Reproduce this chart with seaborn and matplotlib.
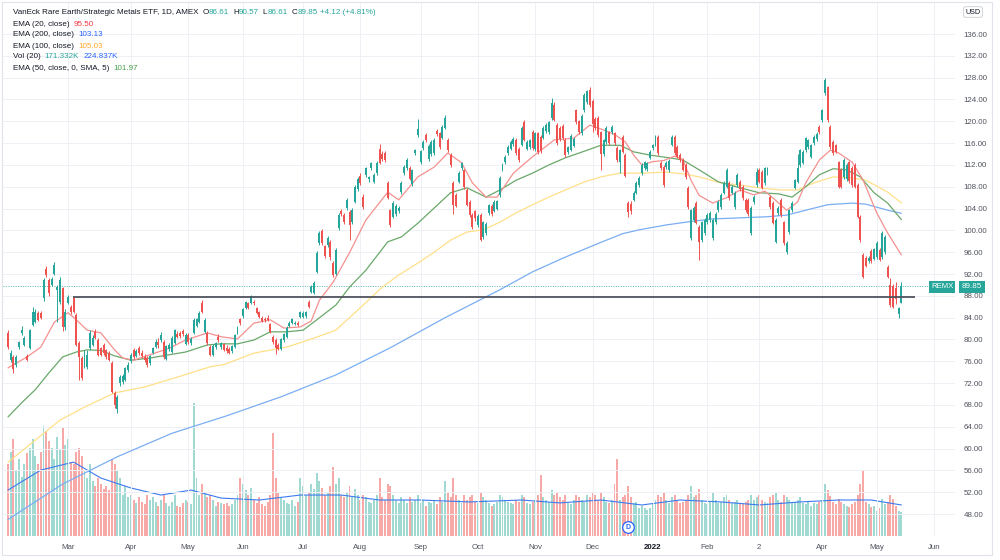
import matplotlib
matplotlib.use("Agg")
import matplotlib.pyplot as plt
from matplotlib.patches import Rectangle
import seaborn as sns
import pandas as pd
import numpy as np

sns.set_theme(style="white")
plt.rcParams['font.family'] = ['Liberation Sans', 'DejaVu Sans']

TEAL = '#26a69a'
RED = '#ef5350'

# trading days shown (AMEX daily bars)
holidays = ["2021-02-15", "2021-04-02", "2021-05-31", "2021-07-05", "2021-09-06",
            "2021-11-25", "2021-12-24", "2022-01-17", "2022-02-21", "2022-04-15",
            "2022-05-30"]
month_labels = ["Mar", "Apr", "May", "Jun", "Jul", "Aug", "Sep", "Oct", "Nov", "Dec",
                "2022", "Feb", "2", "Apr", "May", "Jun"]

opens = [81.2, 76.3, 76.8, 75.3, 78.6, 81.2, 79.0, 77.0, 78.4, 82.7,
         83.2, 84.9, 84.9, 87.6, 92.9, 90.9, 90.0, 92.0, 89.0, 86.9,
         89.4, 82.3, 86.7, 86.0, 87.6, 84.5, 79.4, 76.6, 75.0, 75.0,
         78.4, 79.0, 81.4, 79.9, 78.4, 79.0, 78.0, 77.5, 75.7, 70.2,
         67.3, 72.0, 72.2, 72.6, 74.4, 76.0, 78.0, 77.0, 78.4, 77.6,
         76.8, 76.6, 75.6, 77.5, 78.6, 79.6, 79.9, 79.5, 76.5, 78.2,
         77.7, 79.4, 81.0, 81.2, 81.5, 79.2, 80.8, 79.3, 81.2, 82.5,
         83.2, 86.7, 81.4, 81.2, 78.6, 77.2, 78.6, 80.5, 78.6, 79.2,
         78.5, 78.3, 77.8, 78.6, 81.2, 83.7, 84.3, 85.8, 86.6, 86.7,
         86.9, 85.8, 85.0, 84.0, 83.8, 84.0, 82.8, 80.5, 79.9, 79.0,
         78.2, 79.9, 80.5, 82.4, 83.0, 82.9, 83.1, 84.1, 84.2, 84.3,
         86.9, 88.7, 88.5, 92.4, 97.7, 99.9, 97.1, 97.3, 97.9, 94.0,
         92.0, 100.4, 103.5, 102.8, 104.1, 103.4, 101.5, 105.2, 107.6, 110.0,
         106.2, 110.1, 109.5, 111.4, 108.9, 110.5, 115.0, 114.0, 114.2, 108.7,
         103.8, 102.5, 103.0, 103.6, 107.0, 110.5, 111.4, 111.5, 108.5, 114.2,
         117.5, 112.5, 115.1, 117.5, 113.0, 114.0, 114.2, 118.3, 117.8, 117.0,
         118.8, 116.6, 113.8, 108.7, 106.5, 108.9, 111.4, 111.0, 107.4, 105.2,
         102.8, 103.5, 101.0, 102.8, 98.8, 99.5, 103.2, 104.5, 103.6, 104.0,
         106.5, 111.1, 112.5, 114.2, 115.0, 115.8, 116.6, 115.0, 115.7, 119.9,
         115.0, 115.3, 118.0, 114.9, 117.8, 117.2, 117.0, 118.2, 118.0, 120.6,
         123.0, 119.3, 118.8, 119.2, 116.6, 114.3, 114.8, 115.5, 122.0, 120.0,
         117.8, 122.0, 123.5, 125.8, 123.8, 120.5, 120.6, 118.0, 114.0, 116.2,
         118.0, 118.0, 117.8, 115.1, 112.5, 117.1, 113.8, 105.0, 104.8, 105.6,
         106.9, 108.3, 110.5, 111.4, 111.2, 113.3, 115.1, 115.7, 117.1, 112.4,
         111.6, 111.6, 111.0, 115.7, 117.1, 115.3, 113.8, 112.9, 112.0, 107.8,
         98.6, 101.9, 105.0, 100.6, 98.2, 99.5, 101.5, 101.9, 98.6, 101.5,
         103.7, 104.3, 106.9, 108.0, 108.7, 106.9, 104.3, 108.3, 108.9, 108.0,
         105.6, 105.6, 99.5, 105.2, 108.3, 111.1, 110.7, 108.7, 110.5, 106.1,
         105.0, 97.9, 103.2, 105.6, 101.5, 96.0, 99.7, 103.7, 107.8, 108.9,
         112.0, 112.4, 114.7, 115.3, 113.5, 116.0, 116.7, 119.0, 120.2, 125.2,
         126.2, 119.0, 116.2, 115.6, 112.5, 111.1, 109.8, 109.4, 112.5, 111.5,
         112.0, 108.3, 102.5, 95.5, 95.0, 94.3, 96.3, 94.8, 95.1, 96.4,
         95.1, 96.0, 93.3, 90.0, 89.8, 89.5, 84.6, 86.61]

highs = [81.8, 78.0, 77.2, 77.2, 79.8, 82.5, 80.6, 77.3, 82.0, 86.0,
         85.5, 85.2, 85.3, 91.2, 93.5, 91.2, 91.5, 94.2, 90.0, 91.5,
         89.6, 85.5, 88.2, 86.3, 87.7, 84.8, 79.8, 77.0, 78.0, 78.0,
         81.8, 80.8, 82.0, 80.2, 78.6, 79.3, 78.3, 77.8, 76.0, 70.5,
         69.8, 73.5, 73.6, 75.0, 75.8, 77.5, 78.5, 78.2, 78.8, 78.0,
         77.3, 77.0, 77.2, 78.7, 80.0, 80.2, 81.3, 79.9, 79.0, 79.3,
         80.6, 82.0, 81.5, 81.6, 82.0, 81.2, 81.2, 80.5, 83.9, 84.0,
         85.3, 87.2, 84.0, 81.5, 79.0, 79.2, 79.6, 81.0, 79.5, 79.4,
         78.9, 78.6, 79.0, 81.0, 82.5, 84.0, 85.8, 87.1, 86.9, 88.2,
         87.2, 86.0, 85.3, 84.3, 84.1, 84.4, 83.0, 80.8, 80.2, 79.4,
         80.3, 81.2, 82.4, 83.3, 84.0, 83.4, 83.3, 85.2, 85.2, 85.3,
         87.3, 89.9, 90.8, 96.2, 99.8, 100.3, 97.4, 98.9, 98.2, 94.3,
         96.8, 103.2, 104.0, 103.1, 106.0, 103.8, 104.1, 108.3, 109.8, 110.5,
         106.6, 111.7, 110.0, 112.6, 110.5, 112.7, 115.8, 114.5, 114.6, 109.0,
         104.0, 105.3, 104.8, 104.4, 109.0, 111.9, 113.2, 111.8, 111.3, 115.0,
         120.5, 114.8, 116.5, 117.8, 115.8, 116.5, 116.9, 118.6, 118.1, 119.3,
         121.2, 116.9, 114.1, 109.0, 106.8, 110.8, 112.6, 111.3, 107.7, 105.5,
         103.1, 103.8, 103.0, 103.1, 101.8, 101.5, 104.9, 104.8, 105.5, 105.6,
         109.9, 112.3, 113.8, 115.6, 116.5, 117.1, 116.9, 115.3, 119.1, 120.3,
         116.5, 116.8, 118.4, 118.1, 118.1, 117.5, 119.1, 119.6, 120.1, 124.3,
         123.5, 119.6, 119.1, 119.5, 116.9, 115.5, 117.6, 117.1, 122.3, 120.3,
         121.3, 125.1, 125.8, 126.2, 124.1, 120.8, 120.9, 118.3, 116.8, 119.1,
         118.3, 119.3, 118.1, 115.4, 115.0, 117.4, 114.1, 105.3, 105.3, 107.2,
         109.0, 109.9, 112.3, 112.8, 112.6, 114.7, 115.9, 117.4, 117.4, 112.7,
         111.9, 112.7, 113.1, 117.4, 117.4, 115.6, 114.1, 113.2, 112.3, 108.1,
         104.0, 104.4, 105.3, 100.9, 101.8, 102.2, 103.1, 103.5, 102.2, 103.3,
         105.5, 106.8, 109.0, 111.4, 109.0, 108.3, 107.2, 110.5, 109.2, 108.3,
         105.9, 105.9, 104.4, 106.4, 111.4, 111.4, 111.0, 111.7, 111.7, 106.4,
         105.3, 102.2, 104.4, 105.9, 101.8, 98.0, 104.0, 105.3, 109.5, 114.0,
         115.0, 114.7, 117.2, 116.8, 115.9, 117.4, 118.0, 119.3, 122.3, 127.9,
         126.5, 119.3, 116.5, 115.9, 112.8, 111.4, 113.2, 112.3, 112.8, 111.8,
         112.3, 108.6, 102.8, 95.8, 95.3, 95.3, 96.6, 96.8, 98.0, 96.7,
         99.8, 99.1, 93.6, 91.2, 90.1, 90.5, 86.0, 90.57]

lows = [78.2, 75.8, 73.9, 75.0, 78.3, 80.9, 78.8, 76.0, 78.2, 82.5,
        83.0, 83.3, 83.7, 87.0, 91.5, 88.0, 89.8, 91.8, 83.2, 86.5,
        81.5, 81.8, 86.5, 84.7, 84.8, 78.8, 72.6, 72.5, 74.7, 74.5,
        78.0, 78.8, 80.0, 77.0, 77.0, 77.2, 76.5, 76.0, 70.2, 67.5,
        66.5, 71.5, 71.8, 72.3, 74.0, 75.6, 76.5, 76.7, 77.2, 76.6,
        75.9, 75.0, 75.4, 77.3, 78.4, 78.5, 79.6, 76.5, 76.2, 77.9,
        77.5, 79.2, 80.2, 80.3, 80.7, 79.0, 79.2, 79.0, 81.0, 82.2,
        83.0, 84.8, 81.2, 79.0, 77.0, 77.0, 78.3, 79.6, 78.2, 77.9,
        77.6, 77.3, 77.6, 78.4, 81.0, 82.7, 84.0, 85.6, 85.5, 86.5,
        86.3, 84.7, 83.9, 83.2, 83.2, 83.3, 81.2, 79.2, 77.3, 78.0,
        78.0, 79.6, 80.3, 82.2, 82.8, 82.6, 82.4, 83.9, 84.0, 84.0,
        85.8, 88.5, 88.3, 92.2, 97.4, 97.3, 95.0, 97.0, 94.6, 91.5,
        91.8, 100.0, 102.7, 101.2, 103.8, 98.3, 101.2, 105.0, 107.3, 108.3,
        104.0, 109.8, 108.9, 111.1, 108.6, 110.2, 112.1, 112.7, 112.6, 105.7,
        100.7, 102.2, 102.7, 103.2, 106.7, 110.2, 111.1, 109.2, 108.2, 113.9,
        117.2, 112.2, 114.8, 116.2, 112.7, 113.7, 113.9, 117.3, 115.0, 116.7,
        118.5, 114.4, 111.7, 103.0, 104.2, 108.6, 111.1, 107.5, 104.4, 102.5,
        100.3, 101.8, 100.7, 98.1, 98.5, 99.2, 102.9, 102.7, 103.3, 103.7,
        106.2, 110.8, 112.2, 113.9, 114.7, 115.5, 113.9, 112.6, 115.4, 116.3,
        114.7, 115.0, 114.8, 114.6, 114.0, 114.2, 116.7, 117.9, 117.7, 120.3,
        120.0, 115.7, 116.4, 116.6, 113.5, 114.0, 114.5, 115.2, 119.5, 117.7,
        117.5, 121.7, 123.2, 122.7, 118.0, 118.4, 117.2, 111.0, 113.7, 115.9,
        115.7, 117.7, 115.7, 112.6, 110.5, 114.1, 109.7, 102.5, 103.0, 105.3,
        106.6, 108.0, 110.2, 111.1, 110.9, 113.0, 114.8, 115.4, 113.9, 111.1,
        108.0, 111.3, 110.7, 115.4, 113.9, 113.2, 112.6, 110.8, 109.5, 104.0,
        98.3, 101.6, 101.1, 94.6, 97.9, 99.2, 101.2, 101.6, 98.3, 101.2,
        103.4, 104.0, 106.6, 107.7, 105.6, 106.6, 104.0, 108.0, 107.2, 105.6,
        103.4, 102.7, 99.2, 104.9, 107.9, 108.6, 107.5, 108.4, 110.2, 104.0,
        101.1, 97.6, 102.9, 102.5, 97.4, 95.6, 99.4, 103.4, 107.5, 108.6,
        111.7, 112.1, 114.4, 115.0, 113.2, 115.7, 116.4, 117.7, 119.9, 124.9,
        119.9, 115.0, 113.9, 114.1, 107.7, 107.7, 109.5, 109.1, 108.7, 108.0,
        107.7, 102.2, 97.9, 91.2, 93.2, 94.0, 94.0, 94.5, 94.8, 94.3,
        94.8, 95.7, 91.2, 86.0, 85.7, 86.5, 83.9, 86.61]

closes = [78.6, 77.5, 74.5, 76.8, 79.5, 81.7, 80.3, 76.3, 81.7, 85.0,
          85.0, 83.6, 84.0, 90.9, 91.8, 88.5, 91.1, 93.7, 89.6, 90.9,
          82.3, 85.0, 87.8, 85.0, 85.0, 79.0, 76.8, 72.9, 77.5, 77.2,
          81.2, 80.3, 80.3, 77.2, 77.2, 77.5, 76.8, 76.2, 70.4, 68.0,
          69.5, 73.1, 73.3, 74.8, 75.3, 77.2, 76.8, 77.9, 77.5, 76.9,
          76.2, 75.3, 76.9, 78.4, 79.5, 78.9, 80.8, 76.8, 78.8, 79.0,
          80.3, 81.7, 80.5, 80.6, 81.0, 80.8, 79.5, 80.1, 83.6, 83.7,
          84.9, 85.0, 83.6, 79.4, 77.2, 78.8, 79.3, 79.9, 79.3, 78.0,
          77.8, 77.5, 78.8, 80.8, 82.3, 83.0, 85.6, 86.9, 85.8, 88.0,
          86.6, 84.9, 84.1, 83.4, 83.5, 83.6, 81.4, 79.5, 78.4, 78.2,
          80.0, 81.0, 82.1, 83.0, 83.8, 83.1, 82.6, 85.0, 84.9, 85.0,
          86.0, 89.6, 90.4, 95.9, 99.5, 97.6, 95.3, 98.6, 95.1, 91.8,
          96.4, 102.8, 103.0, 101.5, 105.6, 101.0, 103.8, 108.0, 109.5, 108.6,
          104.3, 111.4, 109.7, 112.3, 110.2, 112.4, 112.4, 113.0, 112.9, 106.0,
          101.0, 105.0, 104.5, 104.1, 108.7, 111.6, 112.9, 109.5, 111.0, 114.7,
          118.6, 114.5, 116.2, 116.5, 115.5, 116.2, 116.6, 117.6, 115.3, 119.0,
          120.6, 114.7, 112.0, 104.7, 104.5, 110.5, 112.3, 108.0, 104.7, 102.8,
          100.6, 102.2, 102.6, 98.2, 101.5, 101.2, 104.6, 103.0, 105.2, 105.3,
          109.6, 112.0, 113.5, 115.3, 116.2, 116.8, 114.2, 112.9, 118.8, 116.6,
          116.2, 116.5, 115.1, 117.8, 114.3, 114.5, 118.8, 119.3, 119.8, 123.4,
          120.3, 116.0, 116.7, 116.9, 113.8, 115.2, 117.3, 116.8, 119.8, 118.0,
          121.0, 124.8, 125.5, 123.0, 119.5, 118.7, 117.5, 114.0, 116.5, 118.8,
          116.0, 119.0, 116.0, 112.9, 114.7, 114.4, 110.0, 103.4, 103.5, 106.9,
          108.7, 109.6, 112.0, 112.5, 112.3, 114.4, 115.6, 117.1, 114.2, 111.4,
          108.3, 112.4, 112.8, 117.1, 114.2, 113.5, 112.9, 111.1, 109.8, 104.3,
          103.7, 104.1, 101.4, 97.9, 101.5, 101.9, 102.8, 103.2, 101.9, 103.0,
          105.2, 106.5, 108.7, 111.1, 105.9, 108.0, 106.9, 110.2, 107.5, 105.9,
          103.7, 103.0, 104.1, 106.1, 110.7, 108.9, 107.8, 111.4, 111.4, 104.3,
          101.4, 101.9, 104.1, 102.8, 97.7, 97.7, 103.7, 105.0, 109.2, 111.4,
          114.7, 114.4, 116.9, 116.5, 115.6, 117.1, 117.7, 118.0, 122.0, 127.6,
          120.2, 115.3, 114.2, 114.4, 108.0, 108.0, 112.9, 112.0, 109.0, 108.3,
          108.0, 102.5, 98.2, 91.5, 93.5, 95.0, 94.3, 96.5, 97.7, 94.6,
          99.5, 98.8, 91.5, 86.3, 86.0, 87.5, 85.73, 89.85]

# volume, thousands of shares
volumes = [520, 610, 700, 480, 560, 430, 520, 600, 640, 700,
           580, 520, 610, 800, 760, 690, 640, 560, 720, 620,
           780, 660, 700, 540, 520, 610, 640, 580, 480, 420,
           520, 400, 360, 420, 380, 340, 360, 330, 560, 520,
           480, 420, 300, 360, 280, 300, 260, 240, 280, 250,
           230, 300, 260, 280, 250, 220, 260, 300, 240, 220,
           250, 300, 220, 210, 240, 260, 250, 230, 965, 420,
           300, 380, 320, 280, 300, 260, 220, 250, 240, 230,
           240, 220, 230, 260, 300, 420, 380, 330, 300, 350,
           260, 240, 280, 230, 220, 250, 300, 747, 420, 310,
           280, 260, 240, 230, 260, 220, 250, 420, 360, 300,
           320, 380, 340, 460, 400, 350, 300, 320, 360, 500,
           380, 420, 300, 280, 320, 360, 280, 340, 300, 260,
           300, 280, 250, 240, 260, 300, 420, 280, 260, 380,
           360, 300, 260, 240, 280, 260, 240, 280, 250, 260,
           300, 240, 260, 220, 250, 240, 260, 230, 280, 250,
           400, 320, 280, 420, 300, 260, 240, 300, 260, 280,
           300, 250, 240, 320, 280, 260, 240, 220, 230, 250,
           300, 280, 260, 250, 240, 230, 260, 250, 300, 280,
           240, 230, 250, 260, 300, 440, 280, 260, 250, 330,
           300, 320, 280, 260, 300, 240, 230, 260, 300, 280,
           260, 250, 300, 280, 320, 300, 260, 320, 280, 250,
           240, 260, 380, 560, 260, 280, 300, 360, 280, 240,
           250, 200, 220, 200, 190, 200, 240, 260, 300, 280,
           320, 260, 240, 280, 300, 260, 240, 250, 260, 300,
           360, 280, 300, 340, 260, 240, 230, 250, 310, 260,
           240, 250, 280, 300, 260, 240, 250, 260, 240, 230,
           250, 260, 300, 260, 280, 300, 260, 250, 240, 280,
           300, 320, 260, 250, 300, 280, 260, 240, 250, 260,
           280, 240, 230, 250, 220, 240, 230, 250, 260, 380,
           330, 290, 250, 230, 270, 250, 230, 220, 210, 230,
           250, 300, 380, 480, 250, 230, 210, 220, 180, 200,
           270, 230, 250, 300, 270, 220, 180, 171]

# indicator lines: (bar index, value)
ema20_idx = [0, 7, 12, 17, 22, 25, 29, 34, 39, 42, 46, 52, 59, 65, 73, 78, 84, 90, 96, 101,
             107, 111, 114, 119, 125, 131, 139, 143, 150, 156, 161, 166, 170, 175, 179, 185,
             192, 200, 207, 213, 217, 222, 226, 229, 232, 236, 240, 244, 247, 250, 253, 258,
             263, 268, 273, 277, 281, 285, 289, 292, 297, 301, 304, 309, 313, 318, 322, 327]
ema20_val = [74.8, 76.8, 78.6, 83.2, 84.9, 83.6, 81.7, 81.2, 78.1, 76.6, 76.2, 77.2, 78.4, 79.9,
             81.2, 80.5, 80.1, 83.0, 83.6, 82.1, 82.3, 83.4, 87.2, 90.5, 95.9, 101.9, 107.0,
             105.6, 109.8, 111.6, 114.2, 112.4, 108.7, 106.1, 106.1, 110.5, 113.5, 116.6, 116.9,
             119.3, 118.6, 117.6, 116.2, 113.8, 112.0, 112.6, 112.8, 113.6, 113.0, 109.2, 106.4,
             105.0, 106.0, 107.4, 106.5, 107.2, 105.5, 103.7, 105.2, 108.7, 112.9, 114.7, 114.2,
             112.5, 109.2, 103.2, 99.5, 95.5]

ema50_idx = [0, 5, 10, 15, 20, 25, 29, 34, 39, 45, 52, 59, 65, 73, 78, 84, 90, 96, 102, 108,
             113, 120, 125, 131, 139, 144, 150, 156, 162, 168, 175, 180, 186, 192, 198, 204,
             212, 217, 224, 229, 235, 242, 247, 253, 260, 268, 275, 282, 287, 292, 297, 302,
             307, 312, 317, 322, 327]
ema50_val = [65.8, 68.4, 70.8, 73.9, 76.8, 77.7, 78.1, 78.0, 77.0, 76.2, 76.6, 77.2, 77.7, 79.0,
             79.2, 79.2, 79.9, 81.4, 81.4, 81.7, 83.6, 86.3, 89.6, 92.7, 97.9, 98.8, 101.3,
             104.1, 106.9, 107.8, 106.1, 107.4, 109.2, 110.5, 112.0, 113.3, 114.7, 115.6, 115.6,
             114.4, 113.8, 113.3, 112.9, 111.1, 108.9, 107.8, 106.9, 106.7, 106.1, 108.0, 110.2,
             111.3, 111.1, 109.8, 106.9, 105.0, 101.97]

ema100_idx = [0, 19, 28, 39, 50, 62, 74, 79, 90, 102, 110, 120, 130, 137, 143, 150, 156, 162,
              168, 174, 180, 186, 192, 198, 204, 211, 217, 224, 233, 241, 248, 253, 261, 268,
              275, 283, 289, 295, 302, 309, 314, 322, 327]
ema100_val = [57.5, 65.2, 67.6, 70.2, 71.3, 73.1, 75.0, 75.4, 77.5, 78.6, 79.9, 81.7, 86.3, 89.6,
              91.8, 94.0, 96.0, 98.2, 99.7, 100.1, 101.5, 103.2, 104.7, 106.1, 107.4, 108.9,
              109.8, 110.5, 110.5, 110.7, 110.3, 109.8, 108.7, 108.3, 107.8, 107.4, 107.4, 108.7,
              109.8, 109.6, 109.2, 107.0, 105.03]

ema200_idx = [0, 20, 40, 60, 80, 100, 120, 140, 160, 180, 192, 204, 217, 225, 231, 241, 251,
              258, 268, 278, 285, 292, 300, 309, 314, 322, 327]
ema200_val = [47.0, 53.5, 58.5, 62.8, 66.0, 69.5, 73.5, 78.5, 84.0, 89.1, 92.4, 95.1, 97.8, 99.4,
              100.1, 101.0, 101.7, 102.1, 102.3, 102.5, 102.8, 103.7, 104.7, 105.0, 104.8, 103.7,
              103.13]

volma_idx = [0, 12, 24, 34, 45, 56, 67, 78, 92, 107, 122, 136, 151, 169, 188, 202, 217, 232,
             246, 261, 275, 290, 304, 316, 327]
volma_val = [333, 478, 536, 420, 348, 297, 333, 275, 261, 297, 297, 261, 261, 247, 261, 240, 261,
             225, 261, 247, 225, 247, 261, 261, 225]

support_level = 87.7
last_price = 89.85

# ---------------------------------------------------------------------------
W, H = 1000, 560
fig = plt.figure(figsize=(W / 100, H / 100), dpi=100)
fig.patch.set_facecolor('white')

ax_left, ax_right, ax_top, ax_bot = 3, 955, 3, 536
ax = fig.add_axes([ax_left / W, 1 - ax_bot / H, (ax_right - ax_left) / W, (ax_bot - ax_top) / H])
axv = ax.twinx()
ax.set_zorder(axv.get_zorder() + 1)
ax.patch.set_visible(False)

o = np.array(opens); h = np.array(highs); l = np.array(lows); c = np.array(closes)
x = np.arange(len(c))
up = c >= o
cols = np.where(up, TEAL, RED)

# volume pane
vcols = np.where(up, '#9fd9d2', '#f7a9a7')
axv.bar(x, volumes, width=0.72, color=vcols, linewidth=0)
sns.lineplot(x=volma_idx, y=volma_val, ax=axv, color='#3d7bf0', lw=0.8)
axv.set_ylim(0, 3865)
axv.set_yticks([])
axv.set_ylabel('')
for s in axv.spines.values():
    s.set_visible(False)

# candles
ax.vlines(x, l, h, color=cols, lw=0.7, zorder=3)
body = np.maximum(np.abs(c - o), 0.12)
ax.bar(x, body, bottom=np.minimum(o, c), width=0.72, color=cols, linewidth=0, zorder=4)

# moving averages
sns.lineplot(x=ema200_idx, y=ema200_val, ax=ax, color='#7aaef2', lw=0.9, zorder=2)
sns.lineplot(x=ema100_idx, y=ema100_val, ax=ax, color='#ffe089', lw=0.9, zorder=2)
sns.lineplot(x=ema50_idx, y=ema50_val, ax=ax, color='#6aa86a', lw=0.9, zorder=2)
sns.lineplot(x=ema20_idx, y=ema20_val, ax=ax, color='#f4918f', lw=0.9, zorder=2)

# drawn levels
ax.hlines(support_level, 23.8, 332, color='#50535e', lw=1.3, zorder=5)
ax.hlines(last_price, -2, 336.8, color=TEAL, lw=0.7, ls=(0, (1, 1.5)), alpha=0.8, zorder=1)

# x axis: first bar of each month
full_days = pd.bdate_range("2021-01-27", "2022-06-10", freq="C", holidays=holidays)
ms = pd.Series(np.arange(len(full_days)), index=full_days)
month_pos = ms.groupby([full_days.year, full_days.month]).first().values[2:2 + len(month_labels)]
ax.set_xticks(month_pos)
ax.set_xticklabels(month_labels)
for lab in ax.get_xticklabels():
    lab.set_color('#131722' if lab.get_text() == '2022' else '#50535e')
    if lab.get_text() == '2022':
        lab.set_fontweight('bold')
ax.set_xlim((ax_left - 8) / 2.732, (ax_right - 8) / 2.732)

# y axis on the right
ax.set_ylim(136 - (ax_bot - 34) / 5.455, 136 + (34 - ax_top) / 5.455)
ax.yaxis.tick_right()
yt = np.arange(48, 137, 4)
ax.set_yticks(yt)
ax.set_yticklabels([f"{v:.2f}" for v in yt])
ax.tick_params(axis='y', length=0, pad=6, labelsize=5.7, colors='#50535e')
ax.tick_params(axis='x', length=0, pad=6, labelsize=5.7)
ax.grid(True, color='#eef0f5', lw=0.7)
ax.set_axisbelow(True)
ax.set_xlabel('')
ax.set_ylabel('')
for s in ax.spines.values():
    s.set_visible(False)

# dividend marker
ax.scatter([227], [45.6], s=70, facecolor='white', edgecolor='#2962ff', lw=0.9, zorder=6, clip_on=False)
ax.text(227, 45.6, 'D', color='#2962ff', fontsize=5, fontweight='bold', ha='center', va='center', zorder=7)

# price labels on the scale
fig.text(942 / W, 1 - 287 / H, 'REMX', color='white', fontsize=5.6, ha='center', va='center',
         bbox=dict(boxstyle='square,pad=0.3', fc=TEAL, ec='none'))
fig.text(972 / W, 1 - 287 / H, '89.85', color='white', fontsize=5.8, ha='center', va='center',
         bbox=dict(boxstyle='square,pad=0.3', fc=TEAL, ec='none'))
fig.text(973 / W, 1 - 12 / H, 'USD', color='#131722', fontsize=5.2, ha='center', va='center',
         bbox=dict(boxstyle='round,pad=0.25', fc='white', ec='#c9ccd4', lw=0.6))

# legend rows
renderer = fig.canvas.get_renderer()


def put_row(ypx, parts, x0=13):
    xx = x0 / W
    for txt, col, gap in parts:
        t = fig.text(xx, 1 - ypx / H, txt, color=col, fontsize=5.8, ha='left', va='center')
        bb = t.get_window_extent(renderer=renderer)
        xx += (bb.width + gap) / W


DARK = '#131722'
put_row(13, [("VanEck Rare Earth/Strategic Metals ETF, 1D, AMEX", DARK, 4),
             ("O", DARK, 0), ("86.61", TEAL, 4), ("H", DARK, 0), ("90.57", TEAL, 4),
             ("L", DARK, 0), ("86.61", TEAL, 4), ("C", DARK, 0), ("89.85", TEAL, 3),
             ("+4.12 (+4.81%)", TEAL, 0)])
put_row(24, [("EMA (20, close)", DARK, 4), ("95.50", '#f23645', 0)])
put_row(35, [("EMA (200, close)", DARK, 4), ("103.13", '#2962ff', 0)])
put_row(46, [("EMA (100, close)", DARK, 4), ("105.03", '#ffa726', 0)])
put_row(57, [("Vol (20)", DARK, 4), ("171.332K", TEAL, 4), ("224.837K", '#2962ff', 0)])
put_row(69, [("EMA (50, close, 0, SMA, 5)", DARK, 4), ("101.97", '#43a047', 0)])

# panel frame
fig.patches.append(Rectangle((2 / W, 1 - 555 / H), 990 / W, 553 / H, transform=fig.transFigure,
                             fill=False, ec='#e0e3eb', lw=0.8))

plt.savefig('out.png', dpi=100)
